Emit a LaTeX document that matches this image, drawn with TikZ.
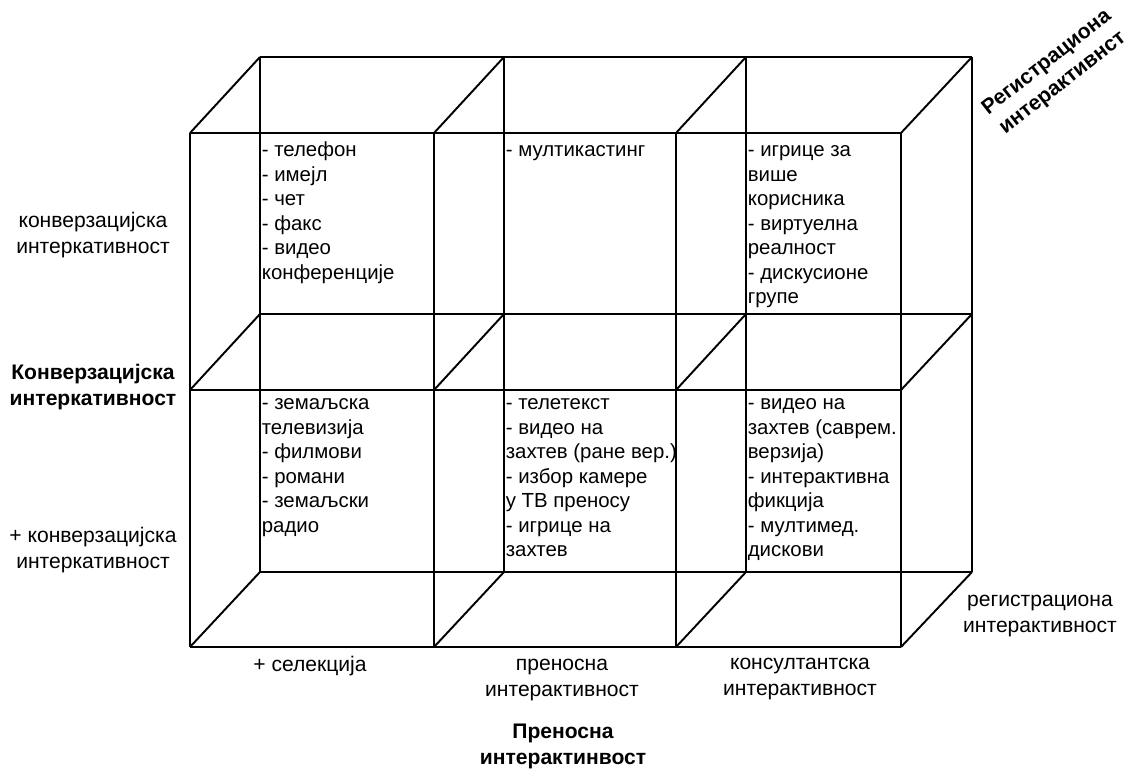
\documentclass[tikz,border=0pt]{standalone}
\usepackage{fontspec}
\setmainfont{Liberation Sans}
\usetikzlibrary{positioning}

\newcommand\cellfont{\fontsize{11.6}{13.9}\selectfont}
\newcommand\axisfont{\fontsize{12}{14.8}\selectfont}

\begin{document}
\begin{tikzpicture}[
    edge/.style={line width=1.1pt},
    cell/.style={anchor=north west, inner sep=0pt, align=left, font=\cellfont},
    axis/.style={inner sep=0pt, align=center, font=\axisfont},
    axisbold/.style={axis, font=\axisfont\bfseries}
]
    \useasboundingbox (0,0) rectangle (22.6,15.38);

    % grid corners: front face (f) and back face (b)
    \foreach \i/\fx/\bx in {0/3.80/5.20, 1/8.68/10.08, 2/13.52/14.92, 3/18.02/19.44}
        \foreach \j/\fy/\by in {0/12.72/14.24, 1/7.58/9.10, 2/2.44/3.94} {
            \coordinate (f\i\j) at (\fx,\fy);
            \coordinate (b\i\j) at (\bx,\by);
        }

    % back face
    \foreach \j in {0,1,2}
        \draw[edge] (b0\j) -- (b3\j);
    \foreach \i in {0,...,3}
        \draw[edge] (b\i0) -- (b\i2);

    % front face
    \foreach \j in {0,1,2}
        \draw[edge] (f0\j) -- (f3\j);
    \foreach \i in {0,...,3}
        \draw[edge] (f\i0) -- (f\i2);

    % depth edges
    \foreach \i in {0,...,3}
        \foreach \j in {0,1,2}
            \draw[edge] (f\i\j) -- (b\i\j);

    % upper row
    \node[cell] (tele) at (5.23,12.59) {\strut- телефон\\- имејл\\- чет\\- факс\\- видео\\конференције};
    \node[cell] (multi) at (10.11,12.59) {\strut- мултикастинг};
    \node[cell] (games) at (14.95,12.59) {\strut- игрице за\\више\\корисника\\- виртуелна\\реалност\\- дискусионе\\групе};

    % lower row
    \node[cell] (terr) at (5.23,7.53) {\strut- земаљска\\телевизија\\- филмови\\- романи\\- земаљски\\радио};
    \node[cell] (ttext) at (10.11,7.53) {\strut- телетекст\\- видео на\\захтев (ране вер.)\\- избор камере\\у ТВ преносу\\- игрице на\\захтев};
    \node[cell] (vod) at (14.95,7.53) {\strut- видео на\\захтев (саврем.\\верзија)\\- интерактивна\\фикција\\- мултимед.\\дискови};

    % left axis
    \node[axis] (convhi) at (1.86,10.68) {конверзацијска\\интеркативност};
    \node[axisbold] (conv) at (1.86,7.63) {Конверзацијска\\интеркативност};
    \node[axis] (convlo) at (1.86,4.37) {+ конверзацијска\\интеркативност};

    % bottom axis
    \node[axis] (sel) at (6.20,2.06) {+ селекција};
    \node[axis] (trans) at (11.24,1.78) {преносна\\интерактивност};
    \node[axis] (cons) at (16.00,1.80) {консултантска\\интерактивност};
    \node[axisbold] (transax) at (11.26,0.45) {Преносна\\интерактинвост};

    % depth axis
    \node[axis] (reg) at (20.80,3.05) {регистрациона\\интерактивност};
    \node[axisbold, rotate=38] (regax) at (21.10,13.92) {Регистрациона\\интерактивнст};
\end{tikzpicture}
\end{document}
